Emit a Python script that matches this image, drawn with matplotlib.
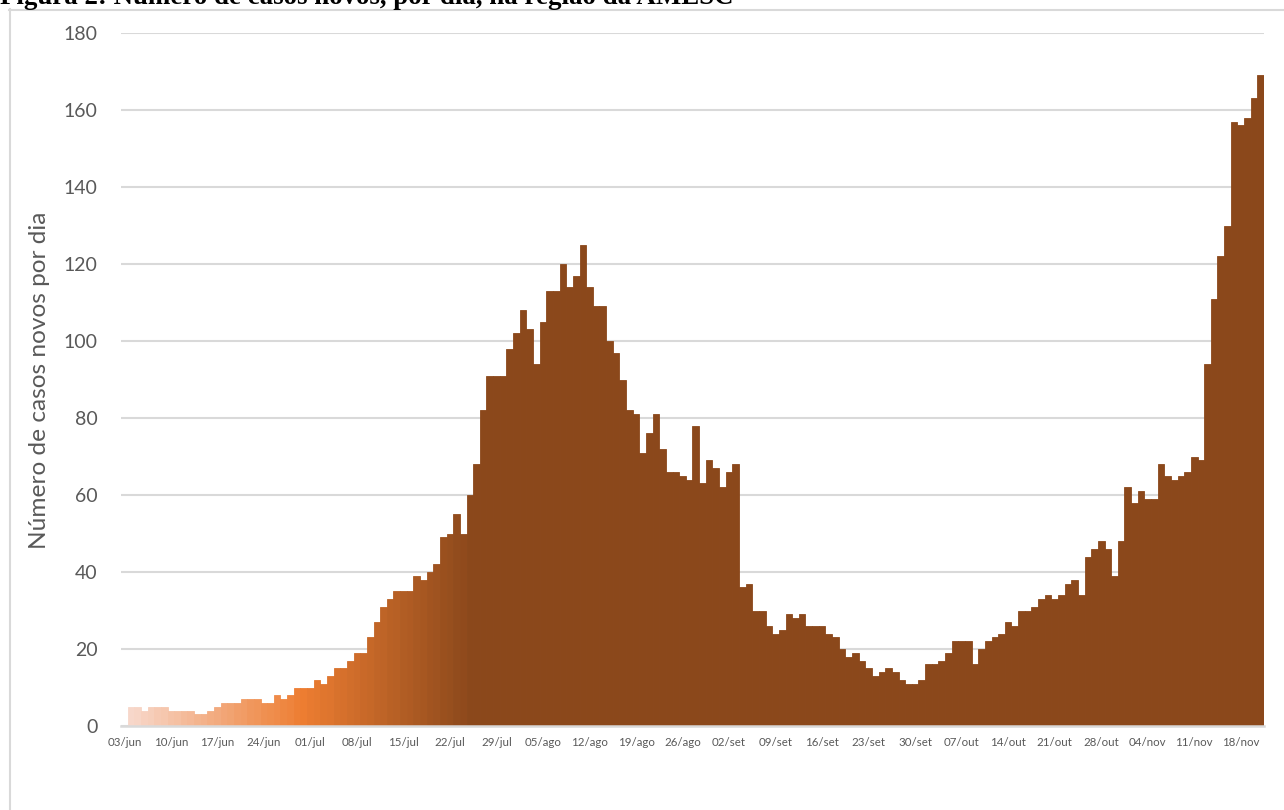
import matplotlib
matplotlib.use("Agg")
import matplotlib.pyplot as plt
import numpy as np
from matplotlib.colors import LinearSegmentedColormap
from matplotlib.lines import Line2D

# ---- data ----
cases = [0, 5, 5, 4, 5, 5, 5, 4, 4, 4, 4, 3, 3, 4, 5, 6, 6, 6, 7, 7, 7, 6, 6, 8, 7, 8, 10, 10,
         10, 12, 11, 13, 15, 15, 17, 19, 19, 23, 27, 31, 33, 35, 35, 35, 39, 38, 40, 42, 49, 50,
         55, 50, 60, 68, 82, 91, 91, 91, 98, 102, 108, 103, 94, 105, 113, 113, 120, 114, 117, 125,
         114, 109, 109, 100, 97, 90, 82, 81, 71, 76, 81, 72, 66, 66, 65, 64, 78, 63, 69, 67, 62,
         66, 68, 36, 37, 30, 30, 26, 24, 25, 29, 28, 29, 26, 26, 26, 24, 23, 20, 18, 19, 17, 15,
         13, 14, 15, 14, 12, 11, 11, 12, 16, 16, 17, 19, 22, 22, 22, 16, 20, 22, 23, 24, 27, 26,
         30, 30, 31, 33, 34, 33, 34, 37, 38, 34, 44, 46, 48, 46, 39, 48, 62, 58, 61, 59, 59, 68,
         65, 64, 65, 66, 70, 69, 94, 111, 122, 130, 157, 156, 158, 163, 169]
tick_labels = ["03/jun", "10/jun", "17/jun", "24/jun", "01/jul", "08/jul", "15/jul", "22/jul",
               "29/jul", "05/ago", "12/ago", "19/ago", "26/ago", "02/set", "09/set", "16/set",
               "23/set", "30/set", "07/out", "14/out", "21/out", "28/out", "04/nov", "11/nov",
               "18/nov"]
y_ticks = [0, 20, 40, 60, 80, 100, 120, 140, 160, 180]
title = "Figura 2: Número de casos novos, por dia, na região da AMESC"
ylabel = "Número de casos novos por dia"

W, H = 1284, 810
fig = plt.figure(figsize=(W / 100, H / 100), dpi=100)
ax = fig.add_axes([121 / W, 1 - 726 / H, (1264 - 121) / W, (726 - 33) / H])

n = len(cases)
x = np.arange(n)
grad = LinearSegmentedColormap.from_list(
    "g", [(0.0, "#F8DCD2"), (0.157, "#ED7D31"), (0.305, "#8B481B"), (1.0, "#8B481B")])
cols = [grad((i + 0.5) / n) for i in x]
ax.bar(x, cases, width=1.0, color=cols, edgecolor=cols, linewidth=0.6, zorder=2)

ax.set_xlim(-0.5, n - 0.5)
ax.set_ylim(0, 180)
ax.set_yticks(y_ticks)
ax.set_yticklabels([str(v) for v in y_ticks])
ax.set_xticks(np.arange(0, n, 7)[:len(tick_labels)])
ax.set_xticklabels(tick_labels)

gray = "#595959"
ax.tick_params(axis="y", length=0, pad=17, labelsize=14, labelcolor=gray)
ax.tick_params(axis="x", length=0, pad=8, labelsize=8.3, labelcolor=gray)
for lab in ax.get_xticklabels() + ax.get_yticklabels():
    lab.set_family(["Lato", "DejaVu Sans"])

ax.grid(axis="y", color="#D9D9D9", linewidth=1.5, zorder=0)
ax.set_axisbelow(True)
for s in ["top", "right", "left"]:
    ax.spines[s].set_visible(False)
ax.spines["bottom"].set_color("#D9D9D9")
ax.spines["bottom"].set_linewidth(1.8)
ax.spines["bottom"].set_zorder(3)

fig.text(40 / W, 1 - 380 / H, ylabel, rotation=90, ha="center", va="center",
         fontsize=17.6, color=gray, family=["Lato", "DejaVu Sans"])

# chart frame (partly outside the picture)
fig.add_artist(Line2D([9.5 / W, 9.5 / W], [1 - 9 / H, 0], color="#D9D9D9", linewidth=1.5))
fig.add_artist(Line2D([9 / W, 1], [1 - 9.5 / H, 1 - 9.5 / H], color="#D9D9D9", linewidth=1.5))

# caption, cut off at the top edge as in the reference
t = fig.text(0, 1 - 4.5 / H, title, ha="left", va="baseline", fontsize=17,
             fontweight="bold", family=["Liberation Serif", "DejaVu Serif"], color="black")
fig.canvas.draw()
bb = t.get_window_extent()
t.set_fontsize(17 * 735 / bb.width)

fig.savefig("out.png", dpi=100)
